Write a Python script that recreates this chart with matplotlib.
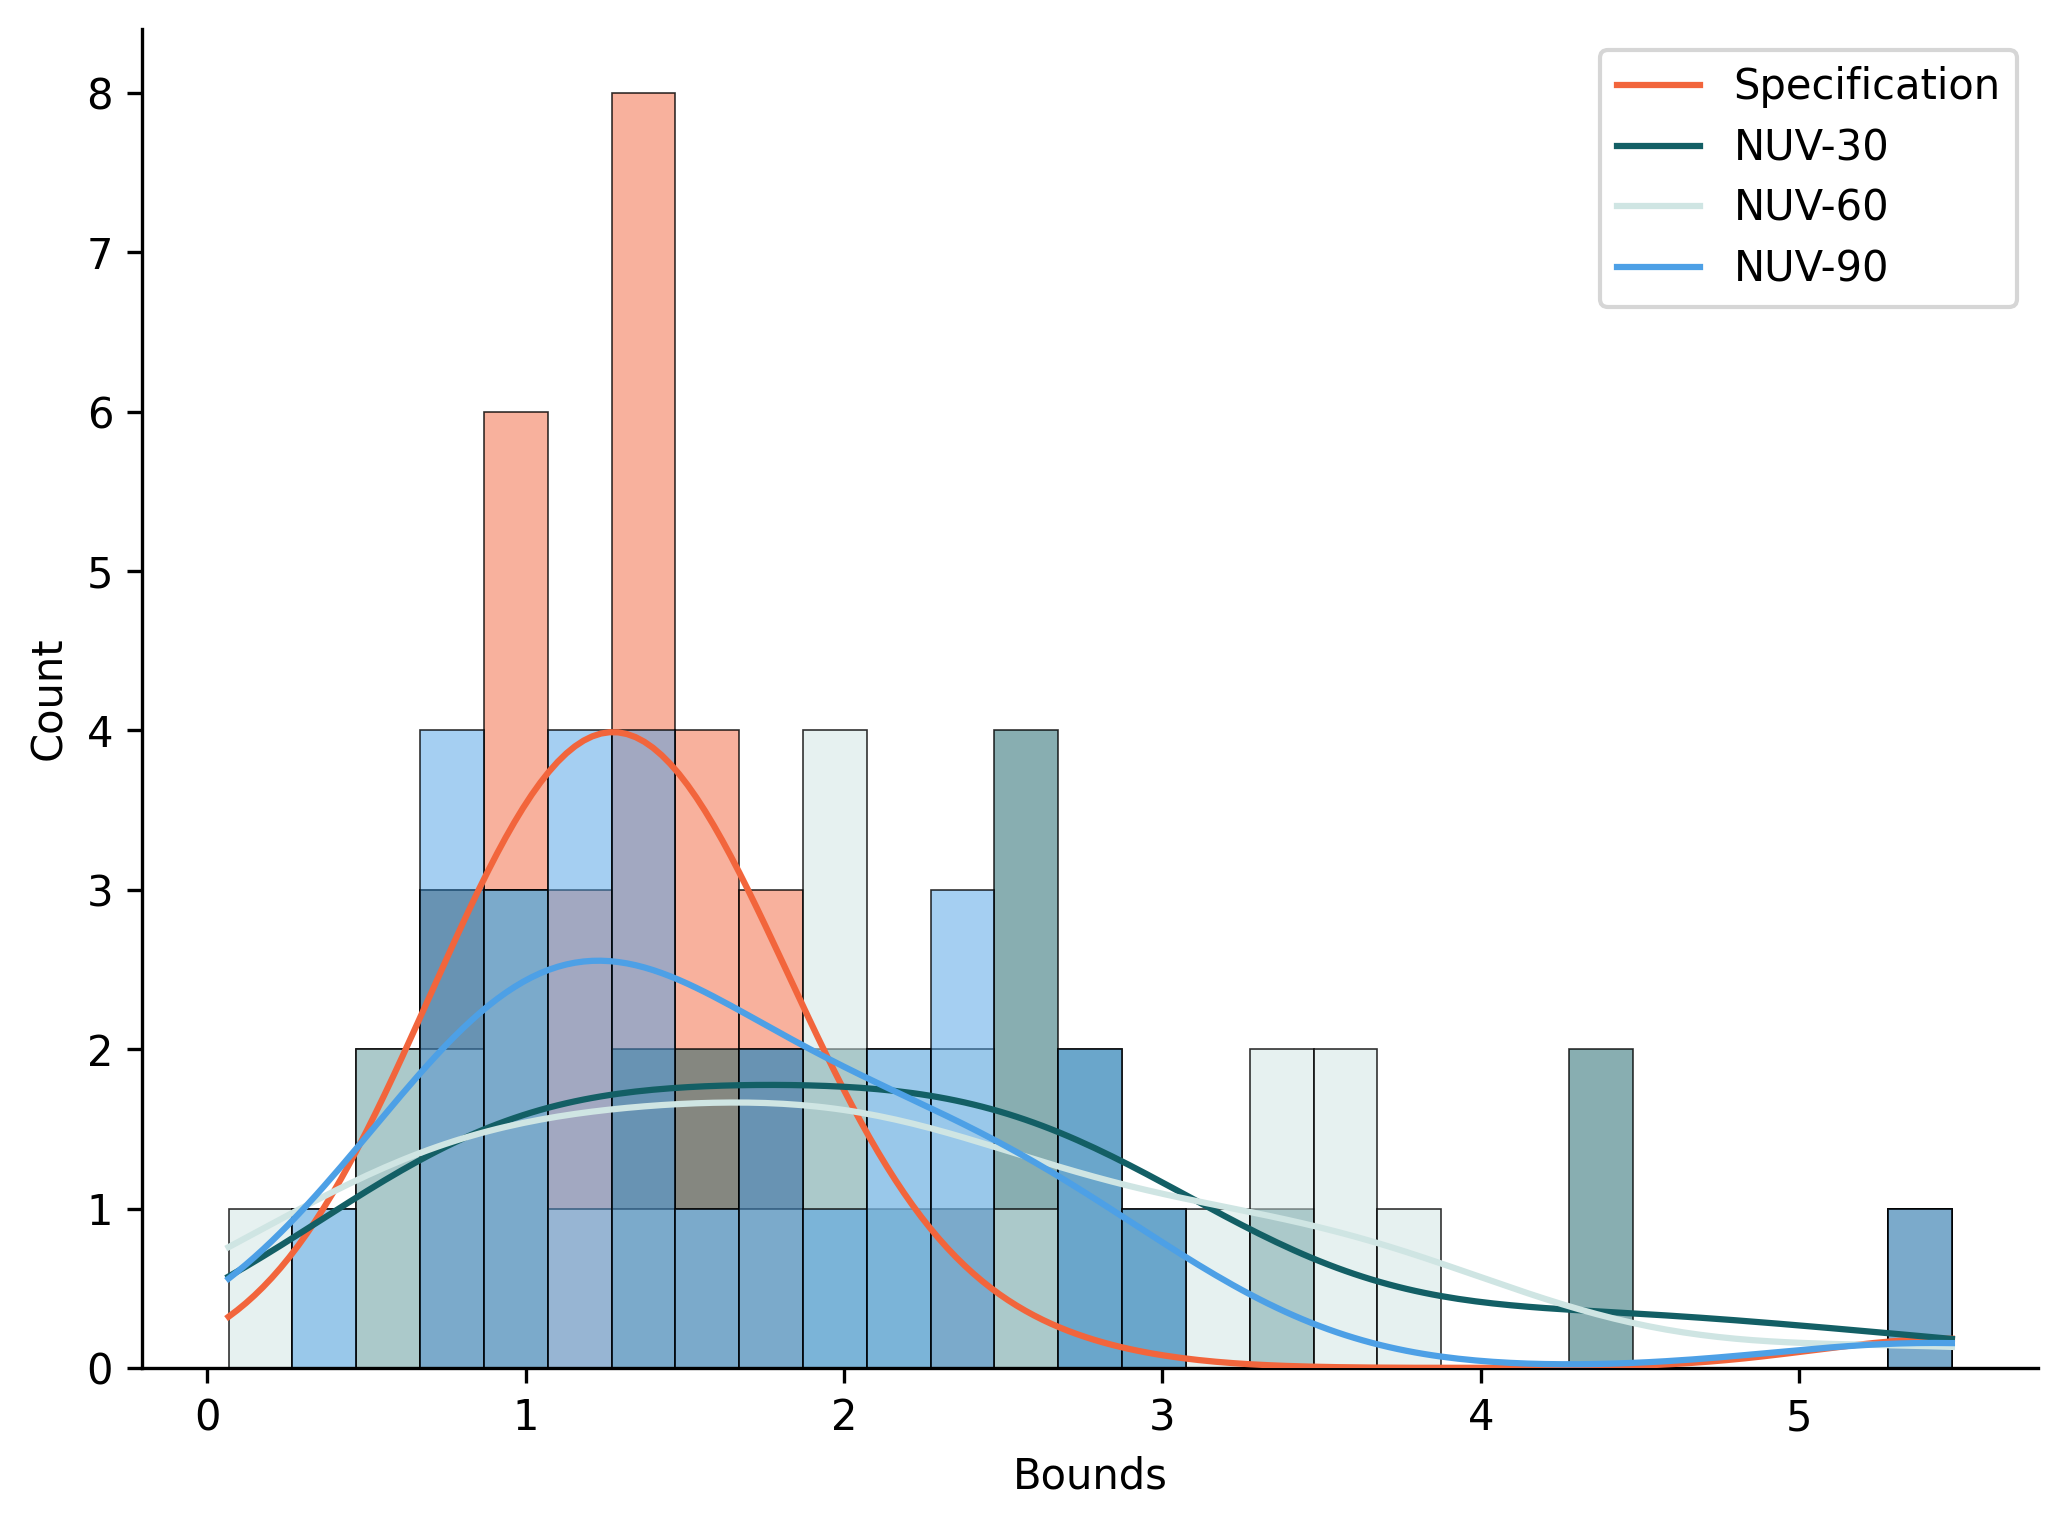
import numpy as np
import matplotlib
matplotlib.use('Agg')
import matplotlib.pyplot as plt
from matplotlib.lines import Line2D

spec = [0.77] * 3 + [0.97] * 6 + [1.17] * 3 + [1.37] * 8 + [1.57] * 4 + [1.77] * 3 + [2.37] + [5.48]
nuv30 = ([0.57] * 2 + [0.77] * 3 + [0.97] * 3 + [1.37] * 2 + [1.57] * 2 + [1.77] * 2 + [1.97] * 2
         + [2.17] + [2.37] + [2.57] * 4 + [2.77] * 2 + [2.97] + [3.38] + [4.38] * 2 + [5.40])
nuv60 = ([0.067] + [0.37] + [0.57] * 2 + [0.77] * 2 + [0.97] * 3 + [1.17] + [1.37] + [1.57] + [1.77]
         + [1.97] * 4 + [2.17] * 2 + [2.37] * 2 + [2.57] + [3.17] + [3.38] * 2 + [3.58] * 2 + [3.78] + [5.38])
nuv90 = ([0.37] + [0.77] * 4 + [0.97] * 3 + [1.17] * 4 + [1.37] * 4 + [1.57] + [1.77] * 2 + [1.97]
         + [2.17] * 2 + [2.37] * 3 + [2.77] * 2 + [2.97] + [5.42])

labels = ['Specification', 'NUV-30', 'NUV-60', 'NUV-90']
series = [spec, nuv30, nuv60, nuv90]
colors = ['#F2653C', '#135F65', '#CFE5E3', '#4DA0E6']
n_bins = 27


def kde_curve(values, grid, binwidth):
    v = np.asarray(values, dtype=float)
    n = len(v)
    bw = v.std(ddof=1) * n ** (-1 / 5)
    z = (grid[:, None] - v[None, :]) / bw
    dens = np.exp(-0.5 * z ** 2).sum(axis=1) / (n * bw * np.sqrt(2 * np.pi))
    return dens * n * binwidth


all_values = np.concatenate([np.asarray(s) for s in series])
edges = np.histogram_bin_edges(all_values, bins=n_bins)
binwidth = edges[1] - edges[0]
grid = np.linspace(all_values.min(), all_values.max(), 200)

plt.rcParams.update({'font.size': 10})
fig = plt.figure(figsize=(2067 / 300, 1524 / 300), dpi=300)
ax = fig.add_axes([0.0689, 0.1024, 0.986 - 0.0689, 0.981 - 0.1024])

# histograms, later series drawn on top
for vals, col in zip(series, colors):
    ax.hist(vals, bins=edges, facecolor=matplotlib.colors.to_rgba(col, 0.5),
            edgecolor=(0, 0, 0, 0.8), linewidth=0.4)

# kde curves scaled to counts
for vals, col in zip(series, colors):
    ax.plot(grid, kde_curve(vals, grid, binwidth), color=col, linewidth=1.5, zorder=5)

ax.spines['top'].set_visible(False)
ax.spines['right'].set_visible(False)
ax.set_xlabel('Bounds')
ax.set_ylabel('Count')

handles = [Line2D([], [], color=c, linewidth=1.5) for c in colors]
ax.legend(handles, labels, loc='upper right', labelspacing=0.45)

fig.savefig('out.png', dpi=300)
